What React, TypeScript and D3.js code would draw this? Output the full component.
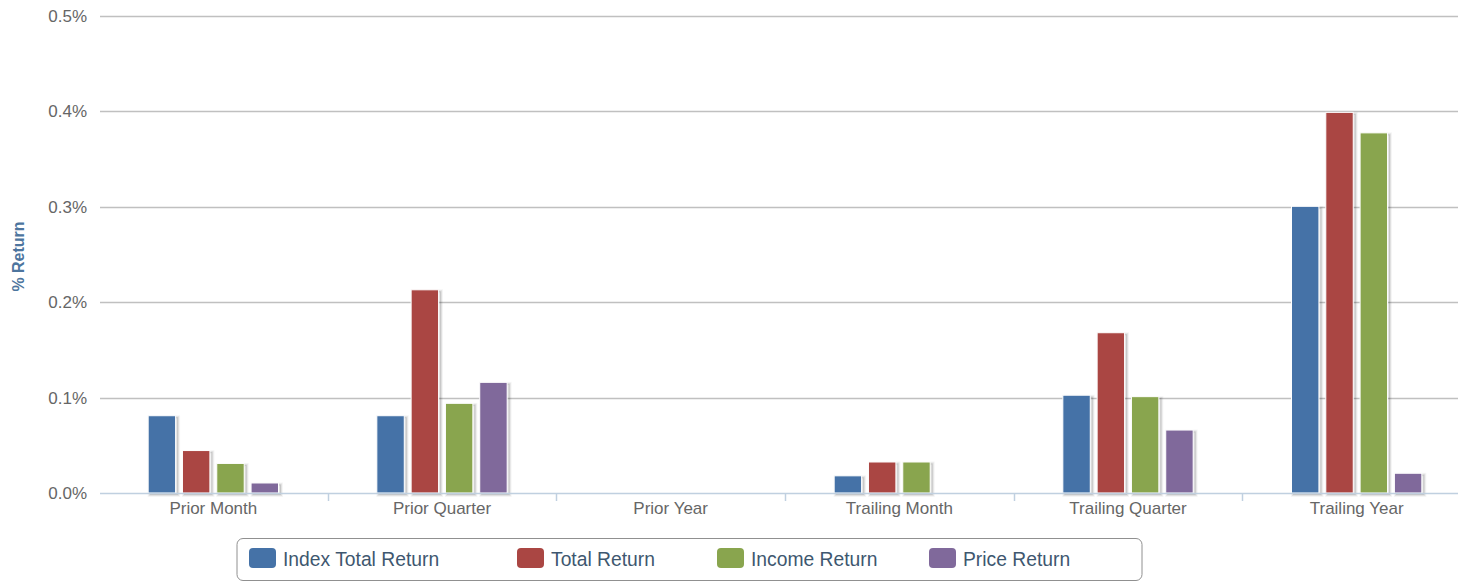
import React from "react";
import * as d3 from "d3";

const categories = ["Prior Month", "Prior Quarter", "Prior Year", "Trailing Month", "Trailing Quarter", "Trailing Year"];
const seriesNames = ["Index Total Return", "Total Return", "Income Return", "Price Return"];
const seriesColors = ["#4572A7", "#AA4643", "#89A54E", "#80699B"];
const indexTotalReturn = [0.081, 0.081, 0, 0.018, 0.1025, 0.3005];
const totalReturn = [0.0445, 0.213, 0, 0.0325, 0.168, 0.399];
const incomeReturn = [0.031, 0.094, 0, 0.0325, 0.101, 0.3775];
const priceReturn = [0.0105, 0.116, 0, 0, 0.066, 0.0207];
const yTicks = [0, 0.1, 0.2, 0.3, 0.4, 0.5];
const legendX = [249, 517, 717, 929];

const seriesValues = [indexTotalReturn, totalReturn, incomeReturn, priceReturn];

const W = 1458;
const H = 581;
const left = 99;
const right = 1471;
const top = 16;
const bottom = 493;
const FONT = "'Liberation Sans', Arial, Helvetica, sans-serif";

export default function App() {
  const x0 = d3.scaleBand<string>().domain(categories).range([left, right]).padding(0);
  const bw = x0.bandwidth();
  const x1 = d3
    .scaleBand<string>()
    .domain(seriesNames)
    .range([bw * 0.2, bw * 0.8])
    .paddingInner(0.2)
    .paddingOuter(0.1);
  const y = d3.scaleLinear().domain([0, 0.5]).range([bottom, top]);
  const fmt = d3.format(".1f");

  const bars: React.ReactNode[] = [];
  categories.forEach((c, ci) => {
    seriesValues.forEach((vals, si) => {
      const v = vals[ci];
      if (!v) return;
      const bx = (x0(c) as number) + (x1(seriesNames[si]) as number);
      const by = y(v);
      const w = x1.bandwidth();
      const h = bottom - by;
      const key = `${ci}-${si}`;
      bars.push(
        <g key={key}>
          {[1, 2, 3].map((i) => (
            <rect
              key={i}
              x={bx + 0.5}
              y={by + 0.5}
              width={w}
              height={h - 0.5}
              fill="none"
              stroke="rgb(0,0,0)"
              strokeOpacity={0.04 * i}
              strokeWidth={7 - 2 * i}
              transform="translate(1.5,1.5)"
            />
          ))}
          <rect x={bx} y={by} width={w} height={h} fill={seriesColors[si]} stroke="#ffffff" strokeWidth={1} />
        </g>
      );
    });
  });

  return (
    <svg
      width={W}
      height={H}
      style={{ position: "absolute", left: 0, top: 0, background: "#fff" }}
      fontFamily={FONT}
    >
      <rect x={0} y={0} width={W} height={H} fill="#ffffff" />
      {yTicks.map((t) =>
        t === 0 ? null : (
          <line key={t} x1={left + 1} x2={right} y1={Math.round(y(t)) + 0.5} y2={Math.round(y(t)) + 0.5} stroke="#C0C0C0" strokeWidth={1.5} />
        )
      )}
      {yTicks.map((t) => (
        <text key={"l" + t} x={87} y={y(t) + 6} textAnchor="end" fontSize={17} fill="#666666">
          {fmt(t * 1) + "%"}
        </text>
      ))}
      <text
        transform={`translate(24,${(top + bottom) / 2 + 2}) rotate(-90)`}
        textAnchor="middle"
        fontSize={16}
        fontWeight="bold"
        fill="#4D759E"
      >
        % Return
      </text>
      {bars}
      <line x1={left + 1} x2={right} y1={bottom + 0.5} y2={bottom + 0.5} stroke="#C0D0E0" strokeWidth={1.5} />
      {categories.slice(1).map((c) => (
        <line
          key={"t" + c}
          x1={Math.round(x0(c) as number) + 0.5}
          x2={Math.round(x0(c) as number) + 0.5}
          y1={bottom}
          y2={bottom + 8}
          stroke="#C0D0E0"
          strokeWidth={1.5}
        />
      ))}
      {categories.map((c) => (
        <text key={"x" + c} x={(x0(c) as number) + bw / 2} y={514} textAnchor="middle" fontSize={17} fill="#666666">
          {c}
        </text>
      ))}
      <rect x={237} y={538.5} width={905} height={42} rx={6} fill="#ffffff" stroke="#909090" strokeWidth={1} />
      {seriesNames.map((s, i) => (
        <g key={"lg" + s}>
          <rect x={legendX[i]} y={548} width={27} height={20} rx={4} fill={seriesColors[i]} />
          <text x={legendX[i] + 34} y={566} fontSize={19.3} fill="#3E576F">
            {s}
          </text>
        </g>
      ))}
    </svg>
  );
}
